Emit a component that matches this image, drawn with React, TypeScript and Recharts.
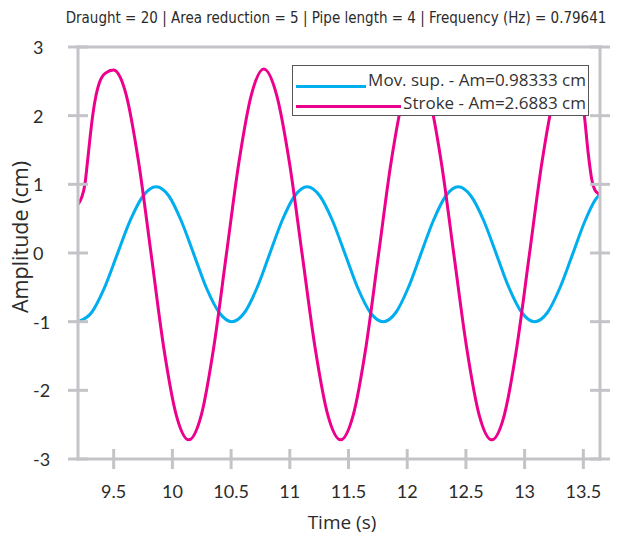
import React from 'react';
import { LineChart, Line, XAxis, YAxis, Legend } from 'recharts';

// readings taken off the reference plot (time in s, amplitude in cm)
const moveTimes = [
  9.196, 9.31, 9.42, 9.53, 9.64, 9.75, 9.861, 9.97, 10.075, 10.183, 10.29, 10.4,
  10.506, 10.613, 10.72, 10.827, 10.934, 11.041, 11.148, 11.256, 11.364, 11.472,
  11.579, 11.687, 11.795, 11.902, 12.008, 12.115, 12.222, 12.328, 12.435, 12.543,
  12.652, 12.76, 12.868, 12.977, 13.085, 13.193, 13.3, 13.408, 13.515, 13.6, 13.642,
];
const moveValues = [
  -1.0, -0.87, -0.51, -0.02, 0.47, 0.83, 0.964, 0.83, 0.47, -0.02, -0.51, -0.87,
  -1.0, -0.87, -0.51, -0.02, 0.47, 0.83, 0.964, 0.83, 0.47, -0.02,
  -0.51, -0.87, -1.0, -0.87, -0.51, -0.02, 0.47, 0.83, 0.964, 0.83,
  0.47, -0.02, -0.51, -0.87, -1.0, -0.87, -0.51, -0.02, 0.47, 0.77, 0.86,
];

const strokeTimes = [
  9.196, 9.225, 9.255, 9.275, 9.3, 9.321, 9.35, 9.378, 9.43, 9.5, 9.555, 9.607, 9.713,
  9.82, 9.926, 10.033, 10.139, 10.246, 10.352, 10.459, 10.566, 10.672, 10.779,
  10.888, 10.997, 11.106, 11.215, 11.324, 11.433, 11.54, 11.648, 11.755, 11.862,
  11.97, 12.077, 12.184, 12.291, 12.398, 12.506, 12.613, 12.72, 12.827, 12.933,
  13.04, 13.147, 13.253, 13.36, 13.467, 13.5, 13.543, 13.57, 13.598, 13.626, 13.642,
];
const strokeValues = [
  0.71, 0.8, 1.0, 1.3, 1.7, 2.0, 2.3, 2.48, 2.62, 2.665, 2.56, 2.3, 1.315,
  -0.03, -1.375, -2.36, -2.72, -2.36, -1.375, -0.03, 1.315, 2.3, 2.68,
  2.3, 1.315, -0.03, -1.375, -2.36, -2.72, -2.36, -1.375, -0.03, 1.315,
  2.3, 2.66, 2.3, 1.315, -0.03, -1.375, -2.36, -2.72, -2.36, -1.375,
  -0.03, 1.315, 2.3, 2.66, 2.32, 2.12, 1.43, 1.09, 0.92, 0.87, 0.85,
];

const xTicks = [9.5, 10, 10.5, 11, 11.5, 12, 12.5, 13, 13.5];
const yTicks = [-3, -2, -1, 0, 1, 2, 3];
const xDomain = [9.196, 13.642];
const yDomain = [-3, 3];

const title = 'Draught = 20 | Area reduction = 5 | Pipe length = 4 | Frequency (Hz) = 0.79641';
const moveName = 'Mov. sup. - Am=0.98333 cm';
const strokeName = 'Stroke - Am=2.6883 cm';

const moveData = moveTimes.map((t, i) => ({ t, v: moveValues[i] }));
const strokeData = strokeTimes.map((t, i) => ({ t, v: strokeValues[i] }));

const AXIS = '#c4c4c8';
const BLUE = '#00aeef';
const MAGENTA = '#ec008c';
const TEXT = '#2b2b2b';
const TICK_FONT = "Lato, 'Open Sans', sans-serif";

const axisLine = { stroke: AXIS, strokeWidth: 3, strokeLinecap: 'square' as const };

const BottomTick = ({ x, y, payload }: any) => (
  <g>
    <line x1={x} x2={x} y1={y - 10} y2={y + 10} stroke={AXIS} strokeWidth={3} />
    <text x={x} y={y + 39} textAnchor="middle" fill={TEXT} fontFamily={TICK_FONT} fontSize={18}>
      {payload.value}
    </text>
  </g>
);

const LeftTick = ({ x, y, payload }: any) => (
  <g>
    <line x1={x - 10} x2={x + 10} y1={y} y2={y} stroke={AXIS} strokeWidth={3} />
    <text x={x - 45} y={y + 7} textAnchor="start" fill={TEXT} fontFamily={TICK_FONT} fontSize={18}>
      {payload.value}
    </text>
  </g>
);

const TopTick = ({ x, y }: any) => (
  <line x1={x} x2={x} y1={y - 10} y2={y + 10} stroke={AXIS} strokeWidth={3} />
);

const RightTick = ({ x, y }: any) => (
  <line x1={x - 10} x2={x + 10} y1={y} y2={y} stroke={AXIS} strokeWidth={3} />
);

const TitleLabel = ({ viewBox }: any) => (
  <text
    x={viewBox.x + viewBox.width / 2 - 3}
    y={23}
    textAnchor="middle"
    fill={TEXT}
    fontFamily="'DejaVu Sans Condensed', 'DejaVu Sans', sans-serif"
    fontSize={15}
  >
    {title}
  </text>
);

const YLabel = ({ viewBox }: any) => {
  const cx = viewBox.x + 27.7;
  const cy = viewBox.y + viewBox.height / 2 - 16;
  return (
    <text
      x={cx}
      y={cy}
      transform={`rotate(-90, ${cx}, ${cy})`}
      textAnchor="middle"
      fill={TEXT}
      fontFamily="'Open Sans', sans-serif"
      fontSize={21.5}
    >
      Amplitude (cm)
    </text>
  );
};

const XLabel = ({ viewBox }: any) => (
  <text
    x={viewBox.x + viewBox.width / 2 + 3}
    y={529.3}
    textAnchor="middle"
    fill={TEXT}
    fontFamily="'Open Sans', sans-serif"
    fontSize={19}
  >
    Time (s)
  </text>
);

const LegendBox = ({ payload }: any) => (
  <div
    style={{
      position: 'relative',
      width: 297,
      height: 51,
      boxSizing: 'border-box',
      border: '1px solid #555',
      background: '#fff',
    }}
  >
    {(payload || []).map((entry: any, i: number) => (
      <div
        key={entry.value}
        style={{
          position: 'absolute',
          left: 3,
          right: 2,
          top: i === 0 ? 4.9 : 28.2,
          height: 17,
          display: 'flex',
          alignItems: 'baseline',
        }}
      >
        <div
          style={{
            flex: 1,
            height: 3,
            background: entry.color,
            marginRight: 2.5,
            position: 'relative',
            top: i === 0 ? 2 : -1,
          }}
        />
        <span
          style={{
            fontFamily: "'Open Sans', sans-serif",
            fontSize: 17,
            lineHeight: '17px',
            color: '#333',
            whiteSpace: 'nowrap',
          }}
        >
          {entry.value}
        </span>
      </div>
    ))}
  </div>
);

export default function App() {
  return (
    <div style={{ position: 'absolute', left: 0, top: 0, background: '#fff' }}>
      <LineChart width={618} height={536} margin={{ top: 0, right: 0, bottom: 0, left: 0 }}>
        <XAxis
          xAxisId="bottom"
          dataKey="t"
          type="number"
          domain={xDomain}
          ticks={xTicks}
          interval={0}
          allowDataOverflow
          height={77}
          axisLine={axisLine}
          tickLine={false}
          tickSize={0}
          tickMargin={0}
          tick={<BottomTick />}
          label={XLabel}
        />
        <XAxis
          xAxisId="top"
          orientation="top"
          type="number"
          domain={xDomain}
          ticks={xTicks}
          interval={0}
          allowDataOverflow
          height={47}
          axisLine={axisLine}
          tickLine={false}
          tickSize={0}
          tickMargin={0}
          tick={<TopTick />}
          label={TitleLabel}
        />
        <YAxis
          yAxisId="left"
          type="number"
          domain={yDomain}
          ticks={yTicks}
          interval={0}
          allowDataOverflow
          width={78}
          axisLine={axisLine}
          tickLine={false}
          tickSize={0}
          tickMargin={0}
          tick={<LeftTick />}
          label={YLabel}
        />
        <YAxis
          yAxisId="right"
          orientation="right"
          type="number"
          domain={yDomain}
          ticks={yTicks}
          interval={0}
          allowDataOverflow
          width={18}
          axisLine={axisLine}
          tickLine={false}
          tickSize={0}
          tickMargin={0}
          tick={<RightTick />}
        />
        <Legend
          layout="horizontal"
          verticalAlign="middle"
          align="center"
          wrapperStyle={{ left: 292, top: 65, width: 297, height: 51 }}
          content={<LegendBox />}
        />
        <Line
          xAxisId="bottom"
          yAxisId="left"
          data={moveData}
          dataKey="v"
          name={moveName}
          type="monotone"
          stroke={BLUE}
          strokeWidth={3}
          dot={false}
          isAnimationActive={false}
        />
        <Line
          xAxisId="bottom"
          yAxisId="left"
          data={strokeData}
          dataKey="v"
          name={strokeName}
          type="monotone"
          stroke={MAGENTA}
          strokeWidth={3}
          dot={false}
          isAnimationActive={false}
        />
      </LineChart>
    </div>
  );
}
